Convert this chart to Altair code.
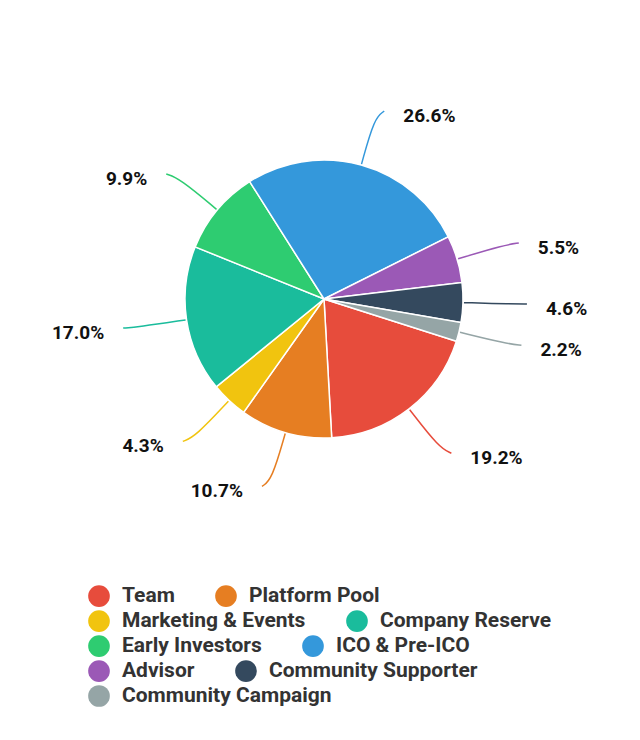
import math
import altair as alt
import pandas as pd

categories = ["Team", "Platform Pool", "Marketing & Events", "Company Reserve",
              "Early Investors", "ICO & Pre-ICO", "Advisor", "Community Supporter",
              "Community Campaign"]
values = [19.2, 10.7, 4.3, 17.0, 9.9, 26.6, 5.5, 4.6, 2.2]
colors = ["#e74c3c", "#e67e22", "#f1c40f", "#1abc9c", "#2ecc71", "#3498db",
          "#9b59b6", "#34495e", "#95a5a6"]
# legend rows (two entries per row, flowing)
legend_rows = [categories[i:i + 2] for i in range(0, len(categories), 2)]

W, H = 624, 724
CX, CY = 316, 291          # pie centre inside the view
R = 139                    # pie radius
START = math.radians(107.7)
TWO_PI = 2 * math.pi
LEG_X, LEG_Y, LEG_STEP = 80, 577, 25

df = pd.DataFrame({"category": categories, "value": values,
                   "order": list(range(len(categories)))})

base = alt.Chart(df)

geo = (base
       .transform_joinaggregate(total="sum(value)")
       .transform_window(cum="sum(value)", sort=[alt.SortField("order")])
       .transform_calculate(
           a0=f"{START} + {TWO_PI} * (datum.cum - datum.value) / datum.total",
           a1=f"{START} + {TWO_PI} * datum.cum / datum.total",
           mid=f"{START} + {TWO_PI} * (datum.cum - datum.value / 2) / datum.total")
       .transform_calculate(side="sin(datum.mid) >= 0 ? 1 : -1"))

color_of = dict(zip(categories, colors))

pie_layers = []
for r, row in enumerate(legend_rows):
    layer = (geo
             .transform_filter(alt.FieldOneOfPredicate(field="category", oneOf=row))
             .mark_arc(outerRadius=R, stroke="white", strokeWidth=1.5)
             .encode(
                 theta=alt.Theta("a0:Q", scale=None),
                 theta2="a1:Q",
                 x=alt.value(CX),
                 y=alt.value(CY),
                 color=alt.Color(
                     "category:N", sort=row,
                     scale=alt.Scale(domain=row, range=[color_of[c] for c in row]),
                     legend=alt.Legend(
                         orient="none", legendX=LEG_X, legendY=LEG_Y + r * LEG_STEP,
                         title=None, direction="horizontal", columnPadding=40,
                         symbolType="circle", symbolSize=470, symbolStrokeWidth=0,
                         labelFont="Roboto", labelFontWeight="bold",
                         labelFontSize=21, labelColor="#333333", labelOffset=12,
                         labelLimit=400, padding=0)),
             ))
    pie_layers.append(layer)

xs = alt.Scale(domain=[-CX, W - CX], range=[0, W], nice=False, zero=False)
ys = alt.Scale(domain=[-CY, H - CY], range=[0, H], nice=False, zero=False)

lines = (geo
         .transform_calculate(step="[0, 1, 2]")
         .transform_flatten(["step"])
         .transform_calculate(
             rr="datum.step == 0 ? 140 : (datum.step == 1 ? 188 : 195)",
             ox="datum.step == 2 ? datum.side * 8 : 0")
         .transform_calculate(
             px="datum.rr * sin(datum.mid) + datum.ox",
             py="-datum.rr * cos(datum.mid)")
         .mark_line(interpolate="basis", strokeWidth=1.5)
         .encode(
             x=alt.X("px:Q", scale=xs, axis=None),
             y=alt.Y("py:Q", scale=ys, axis=None),
             detail="category:N",
             order="step:Q",
             color=alt.Color("category:N", sort=categories,
                             scale=alt.Scale(domain=categories, range=colors),
                             legend=None),
         ))

labels_base = (geo
               .transform_calculate(
                   tx="195 * sin(datum.mid) + datum.side * 27",
                   ty="-195 * cos(datum.mid) + 5",
                   label="format(datum.value, '.1f') + '%'"))

text_enc = dict(
    x=alt.X("tx:Q", scale=xs, axis=None),
    y=alt.Y("ty:Q", scale=ys, axis=None),
    text="label:N",
)

right_labels = (labels_base.transform_filter("datum.side > 0")
                .mark_text(align="left", baseline="middle", font="Roboto",
                           fontWeight="bold", fontSize=19, color="#111111")
                .encode(**text_enc))
left_labels = (labels_base.transform_filter("datum.side < 0")
               .mark_text(align="right", baseline="middle", font="Roboto",
                          fontWeight="bold", fontSize=19, color="#111111")
               .encode(**text_enc))

chart = (alt.layer(*pie_layers, lines, right_labels, left_labels)
         .resolve_scale(color="independent")
         .properties(width=W, height=H, padding=0,
                     autosize=alt.AutoSizeParams(type="none"))
         .configure_view(stroke=None))

chart.save("out.html", embed_options={"renderer": "svg", "actions": False})
